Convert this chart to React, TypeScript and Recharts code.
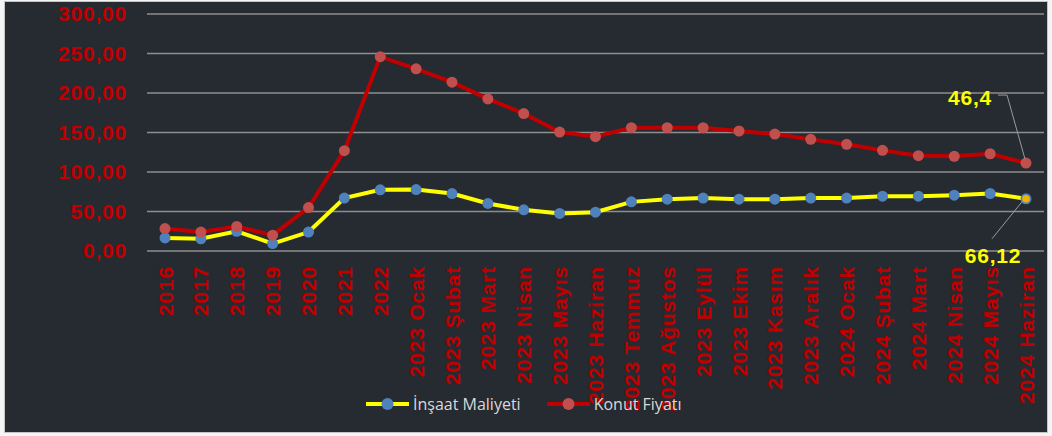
import React from 'react';
import { LineChart, Line, XAxis, YAxis, CartesianGrid, Legend } from 'recharts';

const categories = [
    '2016', '2017', '2018', '2019', '2020', '2021', '2022',
    '2023 Ocak', '2023 Şubat', '2023 Mart', '2023 Nisan', '2023 Mayıs', '2023 Haziran',
    '2023 Temmuz', '2023 Ağustos', '2023 Eylül', '2023 Ekim', '2023 Kasım', '2023 Aralık',
    '2024 Ocak', '2024 Şubat', '2024 Mart', '2024 Nisan', '2024 Mayıs', '2024 Haziran',
];

const insaatMaliyeti = [
    16.5, 15.5, 25, 9.4, 24, 67, 77.5,
    77.8, 72.7, 60.2, 52.1, 47.5, 49.1,
    62.2, 65.6, 67, 65.6, 65.6, 67,
    67, 69.4, 69.4, 70.7, 72.8, 66.12,
];

const konutFiyati = [
    28.4, 24, 31, 20, 55, 127, 246,
    230.6, 213.7, 192.5, 174, 150.6, 144.7,
    156.1, 156, 156, 151.9, 148, 141.3,
    135, 127.4, 120.6, 119.8, 123.1, 111.3,
];

const yTicks = [0, 50, 100, 150, 200, 250, 300];

// son noktadaki etiketler
const calloutKonut = '46,4';
const calloutInsaat = '66,12';

const data = categories.map((c, i) => ({
    name: c,
    insaat: insaatMaliyeti[i],
    konut: konutFiyati[i],
}));

const last = data.length - 1;
const RED = '#c00000';
const axisFont = { fontFamily: '"Liberation Sans", Arial, sans-serif', fontWeight: 700, fontSize: 21, letterSpacing: 0.8 };

const XTick = ({ x, y, payload }: any) => (
    <text
        x={x}
        y={y}
        transform={`rotate(-90, ${x}, ${y})`}
        textAnchor="end"
        dy="0.36em"
        fill={RED}
        style={axisFont}
    >
        {payload.value}
    </text>
);

const InsaatDot = ({ cx, cy, index }: any) => {
    if (index !== last) {
        return <circle key={index} cx={cx} cy={cy} r={5.5} fill="#4f81bd" />;
    }
    return (
        <g key={index}>
            <circle cx={cx} cy={cy} r={5.5} fill="#4f81bd" />
            <circle cx={cx} cy={cy} r={3.8} fill="#f0b400" />
            <line x1={cx - 34} y1={cy + 40} x2={cx - 4} y2={cy + 3} stroke="#9a9a9a" strokeWidth={1} />
            <text x={cx - 33} y={cy + 57} dy="0.36em" textAnchor="middle" fill="#ffff00" style={axisFont}>
                {calloutInsaat}
            </text>
        </g>
    );
};

const KonutDot = ({ cx, cy, index }: any) => {
    if (index !== last) {
        return <circle key={index} cx={cx} cy={cy} r={5.5} fill="#c0504d" />;
    }
    return (
        <g key={index}>
            <circle cx={cx} cy={cy} r={5.5} fill="#c0504d" />
            <polyline
                points={`${cx - 28},${cy - 68} ${cx - 19},${cy - 68} ${cx - 1},${cy - 4}`}
                fill="none"
                stroke="#9a9a9a"
                strokeWidth={1}
            />
            <text x={cx - 34} y={cy - 66} dy="0.36em" textAnchor="end" fill="#ffff00" style={axisFont}>
                {calloutKonut}
            </text>
        </g>
    );
};

const legendItems = [
    { label: 'İnşaat Maliyeti', line: '#ffff00', marker: '#4f81bd' },
    { label: 'Konut Fiyatı', line: RED, marker: '#c0504d' },
];

const CustomLegend = () => (
    <div style={{ display: 'flex', alignItems: 'center', gap: 26 }}>
        {legendItems.map((it) => (
            <div key={it.label} style={{ display: 'flex', alignItems: 'center', gap: 4 }}>
                <svg width={43} height={14}>
                    <line x1={0} y1={7} x2={43} y2={7} stroke={it.line} strokeWidth={4} />
                    <circle cx={21.5} cy={7} r={6} fill={it.marker} />
                </svg>
                <span style={{ fontFamily: '"Open Sans", sans-serif', fontSize: 16, color: '#d9d9d9' }}>{it.label}</span>
            </div>
        ))}
    </div>
);

export default function App() {
    return (
        <div style={{ position: 'absolute', left: 0, top: 0, width: 1052, height: 436, background: '#f4f4f4' }}>
            <div
                style={{
                    position: 'absolute', left: 4, top: 1, width: 1042, height: 430,
                    border: '1px solid #c4c4c4', background: '#262a31',
                }}
            />
            <div style={{ position: 'absolute', left: 0, top: 0 }}>
                <LineChart width={1052} height={436} data={data} margin={{ top: 14, right: 8, left: 7, bottom: 35 }}>
                    <CartesianGrid vertical={false} stroke="#8e8e8e" strokeWidth={1.3} />
                    <XAxis
                        dataKey="name"
                        interval={0}
                        height={150}
                        axisLine={false}
                        tickLine={false}
                        tickSize={0}
                        tickMargin={15}
                        padding={{ left: 18, right: 18 }}
                        tick={<XTick />}
                    />
                    <YAxis
                        width={140}
                        domain={[0, 300]}
                        ticks={yTicks}
                        axisLine={false}
                        tickLine={false}
                        tickSize={0}
                        tickMargin={20}
                        tickFormatter={(v: number) => v.toFixed(2).replace('.', ',')}
                        tick={{ fill: RED, ...axisFont }}
                    />
                    <Legend
                        layout="horizontal"
                        verticalAlign="middle"
                        align="center"
                        content={<CustomLegend />}
                        wrapperStyle={{ left: 366, top: 393, width: 'auto' }}
                    />
                    <Line
                        type="linear"
                        dataKey="insaat"
                        name="İnşaat Maliyeti"
                        stroke="#ffff00"
                        strokeWidth={4}
                        dot={<InsaatDot />}
                        activeDot={false}
                        isAnimationActive={false}
                    />
                    <Line
                        type="linear"
                        dataKey="konut"
                        name="Konut Fiyatı"
                        stroke={RED}
                        strokeWidth={4}
                        dot={<KonutDot />}
                        activeDot={false}
                        isAnimationActive={false}
                    />
                </LineChart>
            </div>
        </div>
    );
}
